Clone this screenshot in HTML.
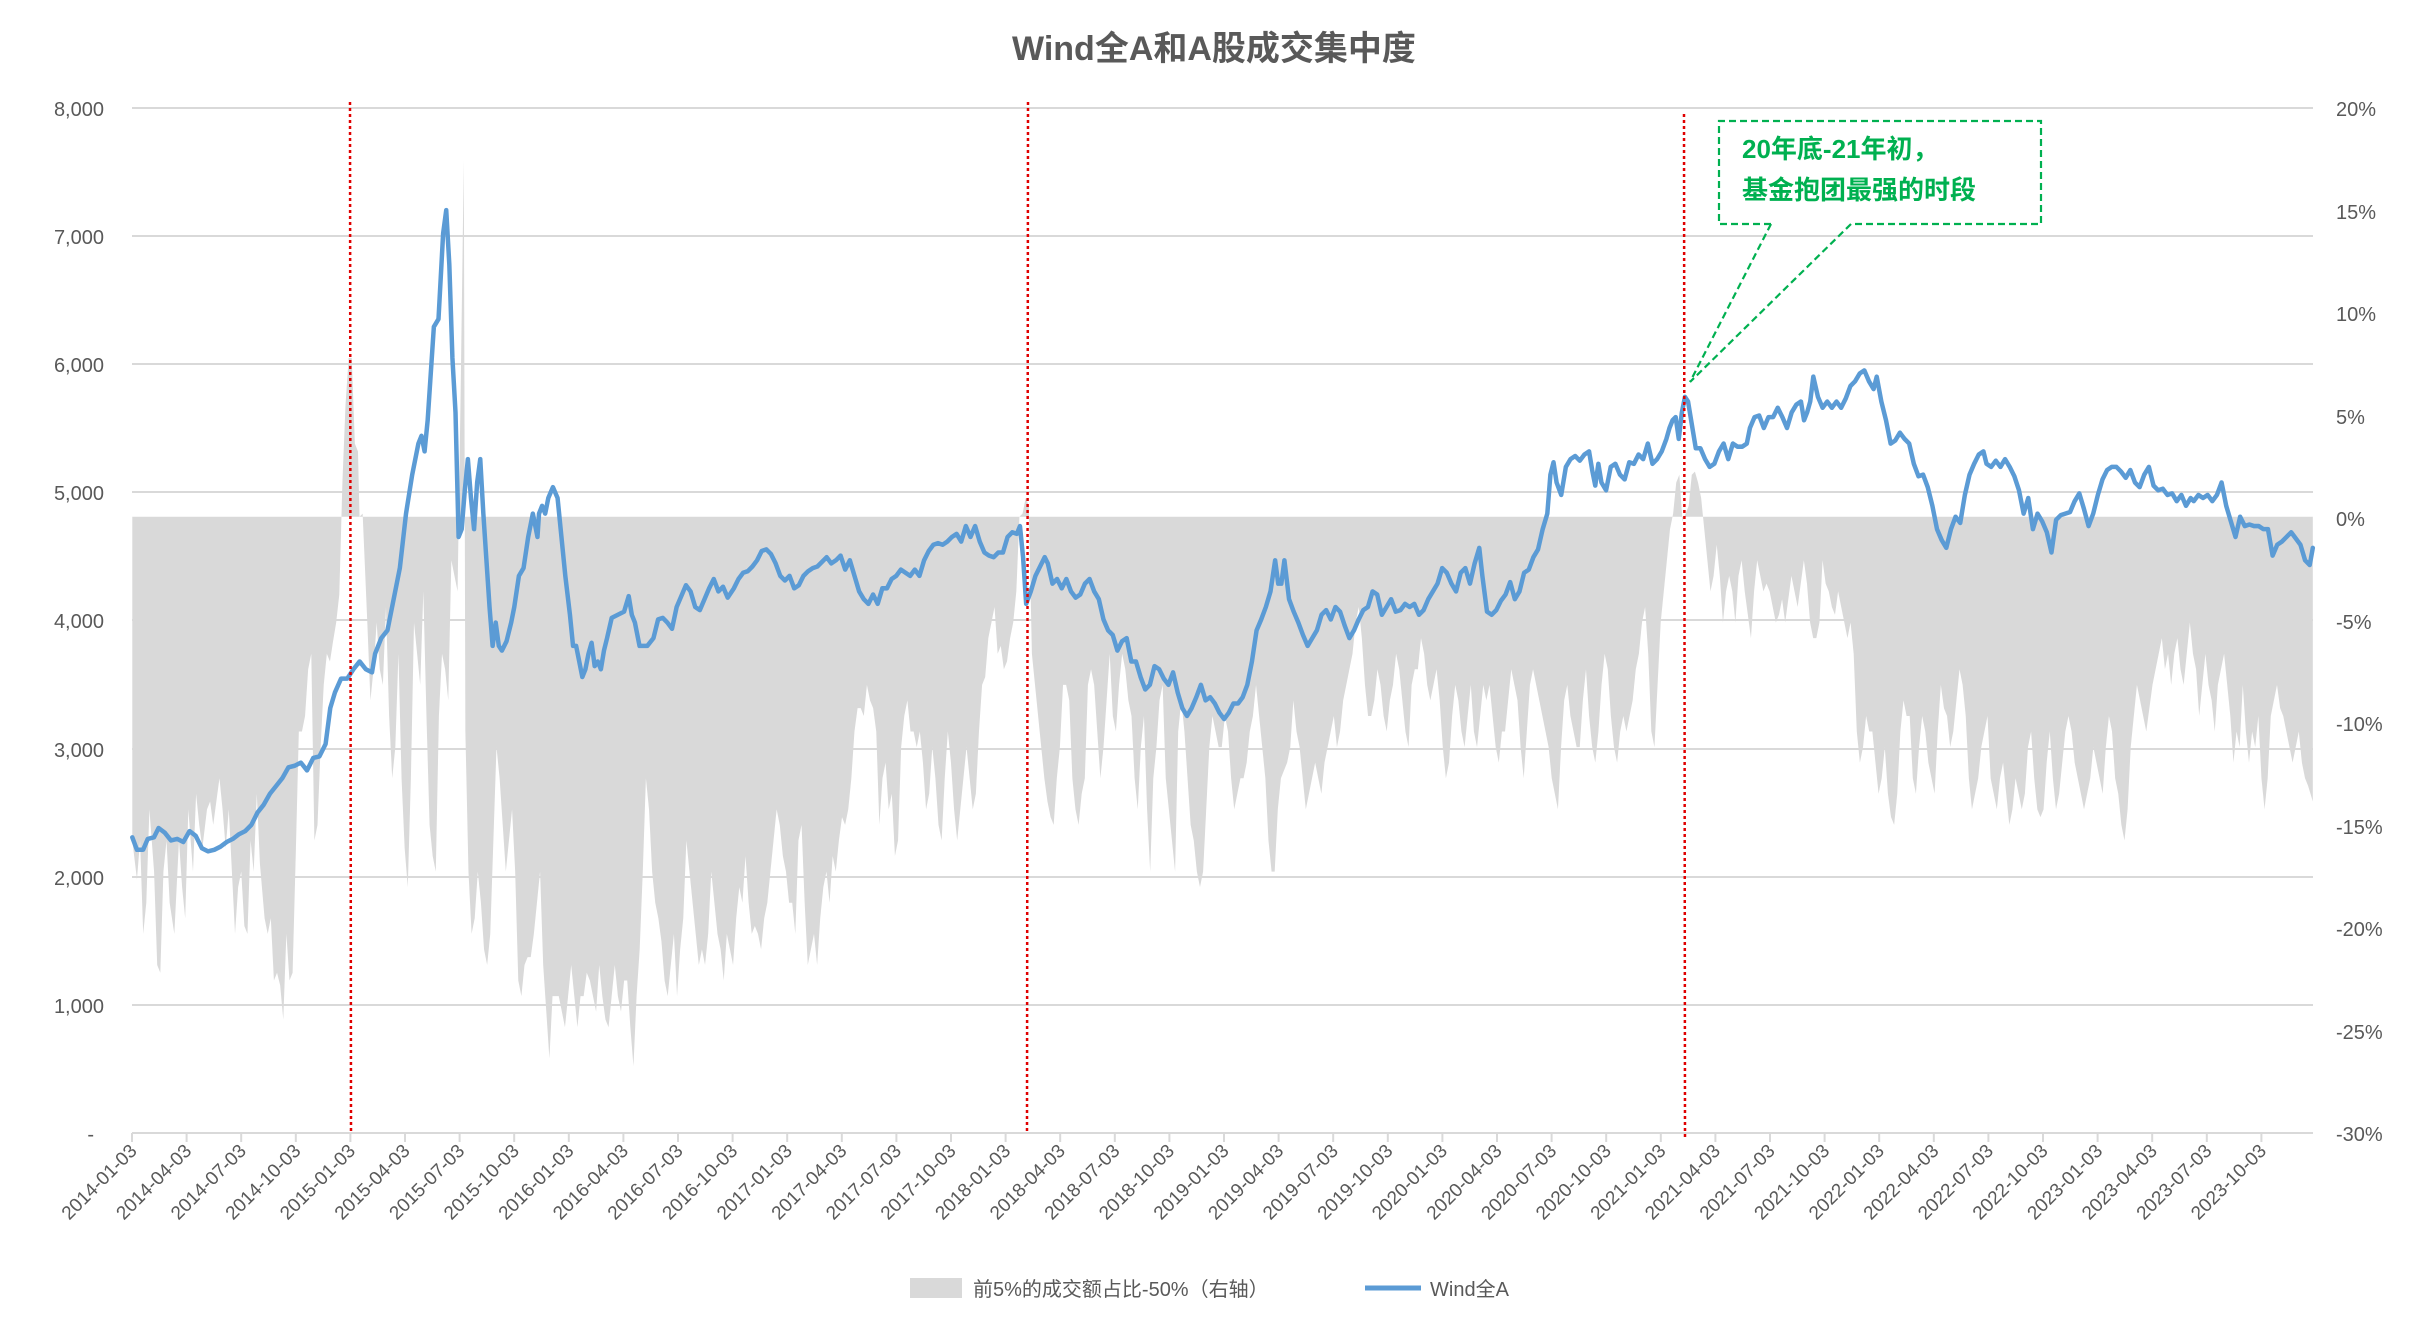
<!DOCTYPE html>
<html><head><meta charset="utf-8"><style>
html,body{margin:0;padding:0;background:#fff;}
svg text{font-family:"Liberation Sans","Noto Sans CJK SC",sans-serif;fill:#595959;}
</style></head><body>
<svg width="2428" height="1330" viewBox="0 0 2428 1330" xmlns="http://www.w3.org/2000/svg">
<rect width="2428" height="1330" fill="#fff"/>
<text x="1214" y="60" text-anchor="middle" font-size="34" font-weight="bold">Wind全A和A股成交集中度</text>
<g stroke="#d9d9d9" stroke-width="2">
<line x1="132" y1="108" x2="2313" y2="108"/><line x1="132" y1="236" x2="2313" y2="236"/>
<line x1="132" y1="364" x2="2313" y2="364"/><line x1="132" y1="492" x2="2313" y2="492"/>
<line x1="132" y1="620" x2="2313" y2="620"/><line x1="132" y1="749" x2="2313" y2="749"/>
<line x1="132" y1="877" x2="2313" y2="877"/><line x1="132" y1="1005" x2="2313" y2="1005"/>
</g>
<g transform="scale(1.5564)">
<path fill="#d9d9d9" d="M85,332 L85,540 88,565 90,540 92,600 94,580 96,520 99,560 101,620 103,625 105,560 107,540 109,580 112,600 115,540 117,570 119,590 121,520 124,560 126,510 128,530 130,545 133,520 135,515 137,530 139,515 141,500 143,520 145,545 147,520 149,560 151,600 153,570 155,560 157,595 159,600 161,540 163,560 165,510 167,555 170,590 172,600 174,590 176,630 178,625 180,633 182,655 184,600 186,630 188,625 190,550 192,470 194,470 196,460 198,430 200,420 202,540 204,530 206,480 208,440 210,420 212,425 214,412 216,400 218,382 220,310 222,260 224,230 226,230 228,285 230,290 231,332 233,330 236,400 238,450 240,430 242,400 244,430 246,440 248,390 250,460 252,500 254,480 256,420 258,500 260,545 262,570 264,500 266,400 268,420 270,440 272,380 274,460 276,530 278,550 280,560 282,460 284,420 286,430 288,450 290,360 292,370 294,380 296,250 298,103 299,470 301,560 303,600 305,590 307,560 309,580 311,610 313,620 315,600 317,540 319,480 321,500 323,530 325,560 327,540 329,520 331,560 333,630 335,640 337,620 339,615 341,615 343,600 345,580 347,560 349,620 351,650 353,680 355,640 357,640 359,640 361,650 363,660 365,640 367,620 369,640 371,660 373,640 375,640 377,625 379,630 381,640 383,650 385,620 387,640 389,655 391,660 393,640 395,620 397,640 399,650 401,630 403,630 405,660 407,685 409,640 411,610 413,560 415,500 417,520 419,560 421,580 423,590 425,605 427,630 429,640 431,620 433,600 435,640 437,610 439,590 441,540 443,560 445,580 447,600 449,620 451,610 453,620 455,600 457,560 459,580 461,600 463,610 465,630 467,600 469,610 471,620 473,590 475,570 477,580 479,550 481,580 483,600 485,595 487,600 489,610 491,590 493,580 495,560 497,540 499,520 501,530 503,550 505,560 507,580 509,580 511,600 513,540 515,530 517,580 519,620 521,610 523,600 525,620 527,590 529,570 531,560 533,580 535,550 537,560 539,540 541,525 543,530 545,520 547,500 549,470 551,455 553,455 555,460 557,440 559,450 561,455 563,470 565,530 567,500 569,490 571,520 573,510 575,550 577,540 579,480 581,460 583,450 585,470 587,470 589,480 591,470 593,490 595,520 597,510 599,480 601,500 603,530 605,540 607,500 609,470 611,490 613,520 615,540 617,520 619,500 621,480 623,500 625,520 627,510 629,470 631,440 633,435 635,410 637,400 639,390 641,420 643,415 645,430 647,425 649,410 651,400 653,380 655,332 657,330 659,320 661,325 663,420 665,440 667,460 669,480 671,500 673,515 675,525 677,530 679,500 681,480 683,440 685,440 687,450 689,500 691,520 693,530 695,510 697,500 699,440 701,430 703,440 705,470 707,500 709,480 711,450 713,420 715,460 717,470 719,440 721,420 723,430 725,450 727,460 729,500 731,520 733,480 735,460 737,520 739,560 741,500 743,480 745,450 747,440 749,500 751,520 753,540 755,560 757,470 759,450 761,470 763,500 765,530 767,540 769,560 771,570 773,560 775,520 777,480 779,460 781,470 783,480 785,480 787,460 789,470 791,500 793,520 795,510 797,500 799,500 801,490 803,470 805,460 807,440 809,460 811,480 813,500 815,540 817,560 819,560 821,520 823,500 825,495 827,490 829,480 831,450 833,470 835,480 837,500 839,520 841,510 843,500 845,490 847,500 849,510 851,490 853,480 855,470 857,460 859,480 861,470 863,450 865,440 867,430 869,420 871,400 873,390 875,410 877,440 879,460 881,460 883,450 885,430 887,440 889,460 891,470 893,450 895,440 897,420 899,430 901,450 903,470 905,480 907,440 909,430 911,430 913,410 915,420 917,440 919,450 921,440 923,430 925,450 927,480 929,500 931,490 933,460 935,440 937,450 939,470 941,480 943,460 945,440 947,470 949,480 951,460 953,440 955,450 957,440 959,460 961,480 963,490 965,470 967,470 969,450 971,430 973,440 975,450 977,480 979,500 981,470 983,440 985,430 987,440 989,450 991,460 993,470 995,480 997,500 999,510 1001,520 1003,480 1005,450 1007,440 1009,460 1011,470 1013,480 1015,480 1017,450 1019,430 1021,460 1023,480 1025,490 1027,470 1029,440 1031,420 1033,430 1035,460 1037,480 1039,490 1041,470 1043,460 1045,470 1047,460 1049,450 1051,430 1053,420 1055,400 1057,390 1059,420 1061,470 1063,480 1065,440 1067,400 1069,380 1071,360 1073,340 1075,330 1077,310 1079,305 1081,335 1083,330 1085,325 1087,305 1089,303 1091,310 1093,320 1095,340 1097,360 1099,380 1101,370 1103,350 1105,370 1107,400 1109,380 1111,370 1113,380 1115,400 1117,370 1119,360 1121,380 1123,395 1125,410 1127,380 1129,360 1131,370 1133,380 1135,375 1137,380 1139,390 1141,400 1143,395 1145,385 1147,400 1149,385 1151,370 1153,380 1155,390 1157,375 1159,360 1161,375 1163,400 1165,410 1167,410 1169,400 1171,360 1173,375 1175,380 1177,390 1179,395 1181,380 1183,390 1185,400 1187,410 1189,400 1191,420 1193,470 1195,490 1197,480 1199,460 1201,470 1203,470 1205,490 1207,510 1209,500 1211,480 1213,510 1215,525 1217,530 1219,510 1221,470 1223,450 1225,460 1227,460 1229,500 1231,510 1233,480 1235,460 1237,470 1239,490 1241,500 1243,510 1245,470 1247,440 1249,455 1251,460 1253,480 1255,470 1257,450 1259,430 1261,440 1263,460 1265,500 1267,520 1269,510 1271,500 1273,480 1275,470 1277,460 1279,500 1281,510 1283,520 1285,500 1287,490 1289,510 1291,530 1293,520 1295,500 1297,510 1299,520 1301,510 1303,480 1305,470 1307,500 1309,520 1311,525 1313,520 1315,490 1317,470 1319,500 1321,520 1323,510 1325,490 1327,470 1329,460 1331,470 1333,490 1335,500 1337,510 1339,520 1341,510 1343,500 1345,480 1347,490 1349,500 1351,510 1353,480 1355,460 1357,470 1359,500 1361,510 1363,530 1365,540 1367,520 1369,480 1371,460 1373,440 1375,450 1377,460 1379,470 1381,455 1383,440 1385,430 1387,420 1389,410 1391,430 1393,420 1395,440 1397,420 1399,410 1401,430 1403,440 1405,420 1407,400 1409,420 1411,430 1413,460 1415,440 1417,420 1419,440 1421,450 1423,470 1425,440 1427,430 1429,420 1431,440 1433,460 1435,490 1437,470 1439,480 1441,440 1443,470 1445,490 1447,470 1449,480 1451,460 1453,500 1455,520 1457,500 1459,460 1461,450 1463,440 1465,455 1467,460 1469,470 1471,480 1473,490 1475,480 1477,470 1479,490 1481,500 1483,505 1486,515 L1486,332 Z"/>
<g transform="translate(85,0) scale(0.99362,1) translate(-85,0)">
<polyline fill="none" stroke="#5b9bd5" stroke-width="2.9" stroke-linejoin="round" stroke-linecap="round" points="85,538 88,546 92,546 95,539 99,538 102,532 106,535 110,540 114,539 118,541 122,534 126,537 130,545 134,547 138,546 142,544 146,541 150,539 154,536 158,534 162,530 166,522 170,517 174,510 178,505 182,500 186,493 190,492 194,490 198,495 202,487 206,486 210,478 213,455 216,445 220,436 224,436 228,430 232,425 236,430 240,432 242,420 246,410 250,405 254,385 258,365 262,330 266,305 270,285 272,280 274,290 276,270 278,240 280,210 283,205 286,150 288,135 290,170 292,230 294,265 296,345 298,340 300,315 302,295 304,320 306,340 308,310 310,295 312,330 314,360 316,390 318,415 320,400 322,415 324,418 327,412 330,400 332,390 335,370 338,365 341,345 344,330 347,345 348,330 350,325 352,330 354,320 357,313 360,320 362,340 365,370 368,395 370,415 372,415 374,425 376,435 378,430 380,420 382,413 384,428 386,425 388,430 390,418 392,410 395,397 399,395 403,393 406,383 408,395 410,400 413,415 418,415 422,410 425,398 428,397 431,400 434,404 437,390 440,383 443,376 446,380 449,390 452,392 455,385 458,378 461,372 464,380 467,377 470,384 474,378 477,372 480,368 483,367 486,364 489,360 492,354 495,353 498,356 501,362 504,370 507,373 510,370 513,378 516,376 519,370 522,367 525,365 528,364 531,361 534,358 537,362 540,360 543,357 546,366 549,360 552,370 555,380 558,385 561,388 564,382 567,388 570,378 573,378 576,372 579,370 582,366 585,368 588,370 591,366 594,370 597,360 600,354 603,350 606,349 609,350 612,348 615,345 618,343 621,348 624,338 627,345 630,338 633,348 636,355 639,357 642,358 645,355 648,355 651,345 654,342 657,343 659,338 661,358 663,388 666,380 669,370 672,364 675,358 677,362 680,375 683,372 686,378 689,372 692,380 695,384 698,382 701,375 704,372 707,380 710,385 713,398 716,405 719,408 722,418 725,412 728,410 731,425 734,425 737,435 740,443 743,440 746,428 749,430 752,436 755,440 758,432 761,445 764,455 767,460 770,455 773,448 776,440 779,450 782,448 785,452 788,458 791,462 794,458 797,452 800,452 803,448 806,440 809,425 812,405 815,398 818,390 821,380 824,360 826,375 828,375 830,360 833,385 836,393 839,400 842,408 845,415 848,410 851,405 854,395 857,392 860,398 863,390 866,393 869,402 872,410 875,405 878,398 881,392 884,390 887,380 890,382 893,395 896,390 899,385 902,393 905,392 908,388 911,390 914,388 917,395 920,392 923,385 926,380 929,375 932,365 935,368 938,375 941,380 944,368 947,365 950,375 953,362 956,352 958,370 961,393 964,395 967,392 970,386 973,382 976,374 979,385 982,380 985,368 988,366 991,358 994,353 997,340 1000,330 1002,305 1004,297 1006,310 1009,318 1012,300 1015,295 1018,293 1021,296 1024,292 1027,290 1029,302 1031,312 1033,298 1035,310 1038,315 1041,300 1044,298 1047,305 1050,308 1053,297 1056,298 1059,292 1062,295 1065,285 1068,298 1071,295 1074,290 1077,282 1079,275 1081,270 1083,268 1085,282 1087,265 1089,255 1091,258 1093,270 1096,288 1099,288 1102,295 1105,300 1108,298 1111,290 1114,285 1117,295 1120,285 1123,287 1126,287 1129,285 1131,275 1134,268 1137,267 1140,275 1143,268 1146,268 1149,262 1152,268 1155,275 1158,265 1161,260 1164,258 1166,270 1168,265 1170,258 1172,242 1175,255 1178,262 1181,258 1184,262 1187,258 1190,262 1193,256 1196,248 1199,245 1202,240 1205,238 1208,245 1211,250 1213,242 1216,258 1219,270 1222,285 1225,283 1228,278 1231,282 1234,285 1237,298 1240,306 1243,305 1246,313 1249,325 1252,340 1255,347 1258,352 1261,340 1264,332 1267,336 1270,318 1273,305 1276,298 1279,292 1282,290 1284,298 1287,300 1290,296 1293,300 1296,295 1299,300 1302,306 1305,315 1308,330 1311,320 1314,340 1317,330 1320,335 1323,342 1326,355 1329,334 1332,331 1335,330 1338,329 1341,322 1344,317 1347,327 1350,338 1353,330 1356,318 1359,308 1362,302 1365,300 1368,300 1371,303 1374,307 1377,302 1380,310 1383,313 1386,305 1389,300 1392,312 1395,315 1398,314 1401,318 1404,317 1407,322 1410,318 1413,325 1416,320 1418,322 1421,318 1424,320 1427,318 1430,322 1433,318 1436,310 1439,325 1442,335 1445,345 1448,332 1451,338 1454,337 1457,338 1460,338 1463,340 1466,340 1469,357 1472,350 1475,348 1478,345 1481,342 1484,346 1487,350 1490,360 1493,363 1495,352"/>
</g>
</g>
<g stroke="#e00000" stroke-width="2.5" stroke-dasharray="3,3">
<line x1="350" y1="102" x2="351" y2="1133"/>
<line x1="1028" y1="102" x2="1027" y2="1133"/>
<line x1="1684" y1="114" x2="1685" y2="1140"/>
</g>
<g stroke="#00b050" stroke-width="2.2" stroke-dasharray="7,4" fill="none">
<path d="M1771,224 L1719,224 L1719,121 L2041,121 L2041,224 L1851,224"/>
<line x1="1771" y1="224" x2="1690" y2="382"/>
<line x1="1851" y1="224" x2="1690" y2="382"/>
</g>
<text x="1742" y="158" font-size="26" font-weight="bold" style="fill:#00b050">20年底-21年初，</text>
<text x="1742" y="199" font-size="26" font-weight="bold" style="fill:#00b050">基金抱团最强的时段</text>
<line x1="132" y1="1133" x2="2313" y2="1133" stroke="#d9d9d9" stroke-width="2"/>
<g font-size="20" text-anchor="end">
<text x="104" y="116">8,000</text><text x="104" y="244">7,000</text><text x="104" y="372">6,000</text>
<text x="104" y="500">5,000</text><text x="104" y="628">4,000</text><text x="104" y="757">3,000</text>
<text x="104" y="885">2,000</text><text x="104" y="1013">1,000</text><text x="94" y="1141">-</text>
</g>
<g font-size="20">
<text x="2336" y="116">20%</text><text x="2336" y="219">15%</text><text x="2336" y="321">10%</text>
<text x="2336" y="424">5%</text><text x="2336" y="526">0%</text><text x="2336" y="629">-5%</text>
<text x="2336" y="731">-10%</text><text x="2336" y="834">-15%</text><text x="2336" y="936">-20%</text>
<text x="2336" y="1039">-25%</text><text x="2336" y="1141">-30%</text>
</g>
<g id="ticks" stroke="#d9d9d9" stroke-width="2"></g>
<g id="xl" font-size="19" text-anchor="end"></g>
<rect x="910" y="1278" width="52" height="20" fill="#d9d9d9"/>
<text x="973" y="1296" font-size="20">前5%的成交额占比-50%（右轴）</text>
<line x1="1365" y1="1288" x2="1421" y2="1288" stroke="#5b9bd5" stroke-width="5"/>
<text x="1430" y="1296" font-size="20">Wind全A</text>
<script>
var t=document.getElementById('ticks'),xl=document.getElementById('xl'),ns='http://www.w3.org/2000/svg';
var m=['01','04','07','10'];
for(var q=0;q<=39;q++){var x=132+54.6*q;
var l=document.createElementNS(ns,'line');l.setAttribute('x1',x);l.setAttribute('x2',x);l.setAttribute('y1',1133);l.setAttribute('y2',1142);t.appendChild(l);
var tx=document.createElementNS(ns,'text');tx.setAttribute('transform','translate('+(x+6)+',1152) rotate(-45)');
tx.textContent=(2014+Math.floor(q/4))+'-'+m[q%4]+'-03';xl.appendChild(tx);}
</script>
</svg>
</body></html>
